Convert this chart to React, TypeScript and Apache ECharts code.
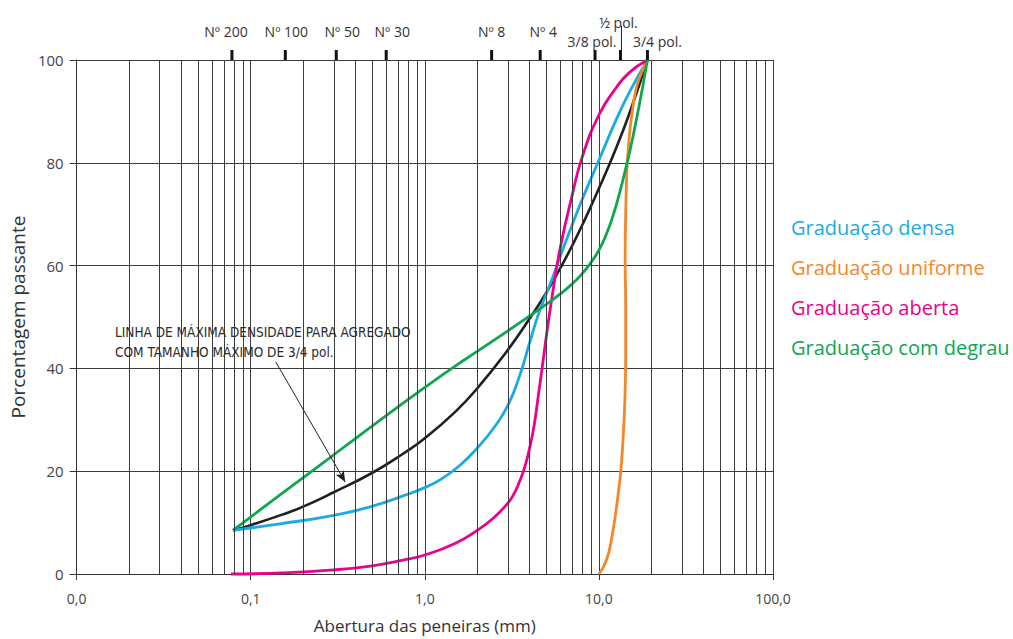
import React, { useEffect, useRef } from 'react';
import * as echarts from 'echarts';

// ---- data (x = sieve opening in mm, y = % passing) ----
const curveNames = ['Graduação densa', 'Graduação uniforme', 'Graduação aberta', 'Graduação com degrau'];
const curveColors = ['#1aaae6', '#f5872a', '#ec008c', '#10a550'];
const curveSmooth = [0.5, 0.4, 0.5, 0.5];
const maxDensityName = 'Linha de máxima densidade';

const maxDensity: [number, number][] = [
  [0.079, 8.5], [0.1, 9.5], [0.15, 11.5], [0.2, 13.1], [0.3, 15.9], [0.5, 19.7], [0.75, 23.4],
  [1.0, 26.4], [1.5, 31.6], [2.0, 36.1], [3.0, 43.6], [4.0, 49.7], [5.0, 54.8], [6.0, 59.5],
  [7.0, 63.8], [8.0, 67.8], [10.0, 75.0], [12.5, 82.7], [15.0, 89.7], [19, 100],
];
const dense: [number, number][] = [
  [0.079, 8.5], [0.15, 9.8], [0.3, 11.4], [0.5, 13.2], [0.75, 15.2], [1.0, 16.8], [1.25, 18.5],
  [1.6, 21.2], [2.0, 24.5], [2.5, 28.5], [3.0, 32.8], [3.5, 38.5], [4.0, 45.0], [4.5, 50.6],
  [5.0, 54.6], [5.5, 58.2], [6.0, 61.8], [7.0, 67.8], [8.0, 72.8], [10.0, 80.5], [12.5, 88.2],
  [15.0, 93.8], [19, 100],
];
const uniform: [number, number][] = [
  [10.0, 0], [10.7, 1.6], [11.4, 4.2], [12.2, 9.6], [12.9, 15.5], [13.4, 20.5], [13.8, 27],
  [14.1, 34], [14.25, 42], [14.25, 52], [14.15, 61], [14.25, 70], [14.5, 79], [14.9, 84.5],
  [15.4, 89], [16.6, 95.2], [19, 100],
];
const open: [number, number][] = [
  [0.077, 0], [0.15, 0.2], [0.3, 0.8], [0.5, 1.6], [0.75, 2.7], [1.0, 3.7], [1.5, 6.0],
  [2.0, 8.5], [2.5, 11.0], [3.0, 13.8], [3.25, 15.6], [3.5, 18.0], [3.75, 20.8], [4.0, 24.5],
  [4.25, 29.0], [4.5, 35.0], [4.75, 40.8], [5.0, 46.5], [5.5, 56.0], [6.0, 63.5], [7.0, 73.5],
  [8.0, 81.0], [10.0, 89.3], [12.5, 94.5], [15.0, 97.6], [19, 100],
];
const gapGraded: [number, number][] = [
  [0.079, 8.5], [0.15, 15.6], [0.3, 23.2], [0.6, 30.8], [1.0, 36.3], [1.5, 40.5], [2.0, 43.3],
  [3.0, 47.3], [4.0, 50.2], [5.0, 52.5], [6.0, 54.5], [7.0, 56.4], [8.0, 58.4], [9.0, 60.6],
  [10.0, 63.0], [11.0, 66.0], [12.0, 69.5], [13.0, 73.5], [14.0, 77.8], [15.0, 82.0],
  [16.0, 86.5], [17.0, 91.0], [18.0, 95.5], [19, 100],
];

const sieveNames = ['Nº 200', 'Nº 100', 'Nº 50', 'Nº 30', 'Nº 8', 'Nº 4', '3/8 pol.', '½ pol.', '3/4 pol.'];
const sieveSizes = [0.078, 0.158, 0.31, 0.6, 2.42, 4.6, 9.5, 13.3, 19];
// label offsets (style only) relative to each sieve tick
const sieveLabelOffsets: [number, number][] = [
  [-6, -29], [1, -29], [6, -29], [6, -29], [0, -29], [3, -29], [-3, -19], [-2, -38], [10, -19],
];

const decades = [0.01, 0.1, 1, 10];
const minorMultipliers = [2, 3, 4, 5, 6, 7, 8, 9];

const annotationText = 'LINHA DE MÁXIMA DENSIDADE PARA AGREGADO\nCOM TAMANHO MÁXIMO DE 3/4 pol.';
const arrowFrom: [number, number] = [0.139, 41.3];
const arrowTo: [number, number] = [0.349, 17.9];

const xTitle = 'Abertura das peneiras (mm)';
const yTitle = 'Porcentagem passante';

const FONT = "'Open Sans', 'Noto Sans', sans-serif";
const NARROW = "'Liberation Sans Narrow', 'DejaVu Sans Condensed', 'Roboto Condensed', Roboto, sans-serif";
const GRID_COLOR = '#3c3c3c';

export default function App() {
  const ref = useRef<HTMLDivElement>(null);
  useEffect(() => {
    const chart = echarts.init(ref.current!, null, { renderer: 'svg' });

    const minorVals: number[] = [];
    decades.forEach((d) => minorMultipliers.forEach((m) => minorVals.push(d * m)));

    const markPointData: any[] = [];
    sieveSizes.forEach((s, i) => {
      markPointData.push({
        coord: [s, 100],
        symbol: 'rect',
        symbolSize: [3, 10],
        symbolOffset: [0, -5],
        itemStyle: { color: '#111' },
        label: { show: false },
      });
      if (sieveNames[i] === '½ pol.') {
        markPointData.push({
          coord: [s, 100],
          symbol: 'rect',
          symbolSize: [1, 24],
          symbolOffset: [1, -22],
          itemStyle: { color: '#222' },
          label: { show: false },
        });
      }
      markPointData.push({
        coord: [s, 100],
        symbol: 'circle',
        symbolSize: 1,
        itemStyle: { color: 'rgba(0,0,0,0)' },
        label: {
          show: true,
          position: 'inside',
          offset: sieveLabelOffsets[i],
          formatter: sieveNames[i],
          color: '#333',
          fontSize: 14,
          fontFamily: FONT,
        },
      });
    });

    const curves = [dense, uniform, open, gapGraded];

    const option: any = {
      animation: false,
      backgroundColor: '#fff',
      grid: { left: 73, right: 240, top: 60, bottom: 59, containLabel: false },
      legend: {
        orient: 'vertical',
        left: 781,
        top: 212,
        itemWidth: 0,
        itemHeight: 0,
        itemGap: 20,
        icon: 'rect',
        selectedMode: false,
        textStyle: { fontSize: 20, fontFamily: FONT },
        data: curveNames.map((n, i) => ({ name: n, textStyle: { color: curveColors[i] } })),
      },
      xAxis: {
        type: 'log',
        logBase: 10,
        min: 0.01,
        max: 100,
        axisLine: { show: true, lineStyle: { color: '#333', width: 1 } },
        axisTick: { show: true, length: 6, lineStyle: { color: '#333' } },
        minorTick: { show: false },
        axisLabel: {
          formatter: (v: number) => v.toFixed(1).replace('.', ','),
          color: '#444',
          fontSize: 14,
          margin: 17,
          fontFamily: FONT,
        },
        splitLine: { show: true, lineStyle: { color: GRID_COLOR, width: 1 } },
        name: xTitle,
        nameLocation: 'middle',
        nameGap: 43,
        nameTextStyle: { fontSize: 17, color: '#333', fontFamily: FONT },
      },
      yAxis: {
        type: 'value',
        min: 0,
        max: 100,
        interval: 20,
        axisLine: { show: true, lineStyle: { color: '#333', width: 1 } },
        axisTick: { show: true, length: 7, lineStyle: { color: '#333' } },
        axisLabel: { color: '#444', fontSize: 15, margin: 13, fontFamily: FONT },
        splitLine: { show: true, lineStyle: { color: GRID_COLOR, width: 1 } },
        name: yTitle,
        nameLocation: 'middle',
        nameGap: 45,
        nameTextStyle: { fontSize: 19, color: '#333', fontFamily: FONT },
      },
      graphic: [
        {
          type: 'text',
          left: 115,
          top: 322,
          z: 100,
          style: {
            text: annotationText,
            fontSize: 13.5,
            fontFamily: NARROW,
            fill: '#2b2b2b',
            lineHeight: 20,
          },
        },
      ],
      series: [
        {
          type: 'line',
          name: '_grid',
          z: 1,
          silent: true,
          symbol: 'none',
          data: [[0.01, 0]],
          lineStyle: { opacity: 0 },
          markLine: {
            silent: true,
            symbol: ['none', 'none'],
            label: { show: false },
            lineStyle: { color: GRID_COLOR, width: 1, type: 'solid' },
            emphasis: { disabled: true },
            data: minorVals.map((v) => ({ xAxis: v })),
          },
        },
        {
          type: 'line',
          name: maxDensityName,
          z: 3,
          data: maxDensity,
          smooth: 0.5,
          symbol: 'none',
          clip: false,
          lineStyle: { color: '#1f1f1f', width: 2.6 },
          itemStyle: { color: '#1f1f1f' },
        },
        ...curves.map((d, i) => ({
          type: 'line',
          name: curveNames[i],
          z: 4,
          data: d,
          smooth: curveSmooth[i],
          symbol: 'none',
          clip: false,
          lineStyle: { color: curveColors[i], width: 2.8 },
          itemStyle: { color: curveColors[i] },
        })),
        {
          type: 'line',
          name: '_annot',
          z: 6,
          silent: true,
          symbol: 'none',
          data: [[0.01, 0]],
          lineStyle: { opacity: 0 },
          markLine: {
            silent: true,
            symbol: ['none', 'arrow'],
            symbolSize: [7, 11],
            label: { show: false },
            lineStyle: { color: '#222', width: 1, type: 'solid' },
            emphasis: { disabled: true },
            data: [[{ coord: arrowFrom }, { coord: arrowTo }]],
          },
          markPoint: {
            silent: true,
            data: markPointData,
          },
        },
      ],
    };

    chart.setOption(option);
    return () => chart.dispose();
  }, []);

  return (
    <div
      ref={ref}
      style={{ position: 'fixed', left: 0, top: 0, width: 1013, height: 639, background: '#fff' }}
    />
  );
}
